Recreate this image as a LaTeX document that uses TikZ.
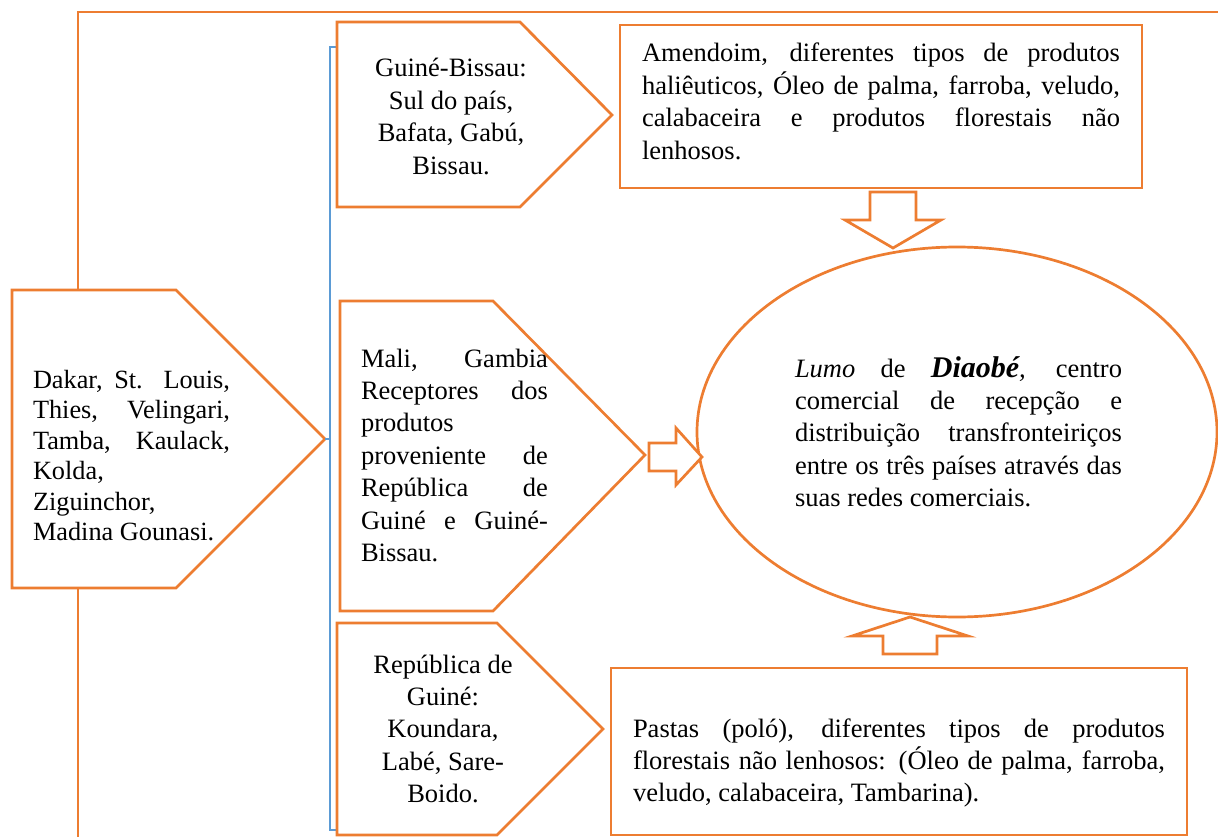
\documentclass[tikz,border=0pt]{standalone}
\usepackage{fontspec}
\setmainfont{Liberation Serif}
\usetikzlibrary{shapes.geometric}
\definecolor{accent}{HTML}{ED7D31}
\definecolor{bracket}{HTML}{5B9BD5}
% one justified line of a given width (pt)
\newcommand\jl[2]{\makebox[#1pt][s]{#2}}
\tikzset{
  outline/.style={draw=accent, line width=2.7pt, line join=miter, fill=white},
  link/.style={draw=accent, line width=2.7pt},
  brace/.style={draw=bracket, line width=2pt},
  txt/.style={inner sep=0pt, outer sep=0pt, font=\fontsize{26.5}{32.4}\selectfont},
  txtsn/.style={inner sep=0pt, outer sep=0pt, font=\fontsize{26.3}{30.5}\selectfont},
}
\begin{document}
\begin{tikzpicture}[x=1pt,y=-1pt]
\useasboundingbox (0,0) rectangle (1218,837);

% frame line through the Senegal block
\coordinate (frameTop) at (78,290);
\coordinate (frameBot) at (78,588);
\draw[link] (frameTop) -- (78,12) -- (1225,12);
\draw[link] (frameBot) -- (78,845);

% Senegal block
\draw[outline] (12,290) -- (176,290) -- (325,439) -- (176,588) -- (12,588) -- cycle;
\coordinate (snTip) at (325,439);
\node[txtsn, anchor=base west] (senegal) at (33,388) {\begin{tabular}[t]{@{}l@{}}
\jl{197}{Dakar, St. Louis,}\\
\jl{197}{Thies, Velingari,}\\
\jl{197}{Tamba, Kaulack,}\\
Kolda,\\
Ziguinchor,\\
Madina Gounasi.\end{tabular}};

% bracket joining the three source blocks
\coordinate (brTop) at (337,47);
\coordinate (brBot) at (337,830);
\draw[brace] (brTop) -- (330,47) -- (330,830) -- (brBot);
\draw[brace] (snTip) -- (330,439);

% Guine-Bissau block
\draw[outline] (337,22) -- (520,22) -- (612,115) -- (520,207) -- (337,207) -- cycle;
\node[txt, anchor=base] (gb) at (451,77) {\begin{tabular}[t]{@{}c@{}}
Guiné-Bissau:\\ Sul do país,\\ Bafata, Gabú,\\ Bissau.\end{tabular}};

% Mali / Gambia block
\draw[outline] (340,301) -- (493,301) -- (645,455) -- (493,611) -- (340,611) -- cycle;
\node[txt, anchor=base west] (mali) at (361,367) {\begin{tabular}[t]{@{}l@{}}
\jl{187}{Mali, Gambia}\\
\jl{187}{Receptores dos}\\
produtos\\
\jl{187}{proveniente de}\\
\jl{187}{República de}\\
\jl{187}{Guiné e Guiné-}\\
Bissau.\end{tabular}};

% Republica de Guine block
\draw[outline] (337,623) -- (497,623) -- (603,729) -- (497,835) -- (337,835) -- cycle;
\node[txt, anchor=base] (rg) at (443,673) {\begin{tabular}[t]{@{}c@{}}
República de\\ Guiné:\\ Koundara,\\ Labé, Sare-\\ Boido.\end{tabular}};

% products from the north
\draw[outline] (620,25) rectangle (1142,188);
\node[txt, anchor=base west] (north) at (642,62) {\begin{tabular}[t]{@{}l@{}}
\jl{478}{Amendoim, diferentes tipos de produtos}\\
\jl{478}{haliêuticos, Óleo de palma, farroba, veludo,}\\
\jl{478}{calabaceira e produtos florestais não}\\
lenhosos.\end{tabular}};

% products from the south
\draw[outline] (611,668) rectangle (1187,835);
\node[txt, anchor=base west] (south) at (633,737) {\begin{tabular}[t]{@{}l@{}}
\jl{532}{Pastas (poló), diferentes tipos de produtos}\\
\jl{532}{florestais não lenhosos: (Óleo de palma, farroba,}\\
veludo, calabaceira, Tambarina).\end{tabular}};

% central market
\node[ellipse, draw=accent, line width=2.7pt, minimum width=520pt, minimum height=370pt, inner sep=0pt] (hub) at (957,432) {};
\node[txt, anchor=base west] (hubtext) at (795,377) {\begin{tabular}[t]{@{}l@{}}
\jl{327}{\textit{Lumo} de {\fontsize{30}{32.4}\selectfont\bfseries\itshape Diaobé}\textit{,} centro}\\
\jl{327}{comercial de recepção e}\\
\jl{327}{distribuição transfronteiriços}\\
\jl{327}{entre os três países através das}\\
suas redes comerciais.\end{tabular}};

% block arrows into the market
\draw[outline] (870,192) -- (916,192) -- (916,220) -- (941,220) -- (893,248)
  -- (845,220) -- (870,220) -- cycle;
\draw[outline] (649,443) -- (676,443) -- (676,428) -- (702,457) -- (676,485)
  -- (676,471) -- (649,471) -- cycle;
\draw[outline] (883,654) -- (937,654) -- (937,636) -- (968,636) -- (910,617)
  -- (852,636) -- (883,636) -- cycle;
\end{tikzpicture}
\end{document}
